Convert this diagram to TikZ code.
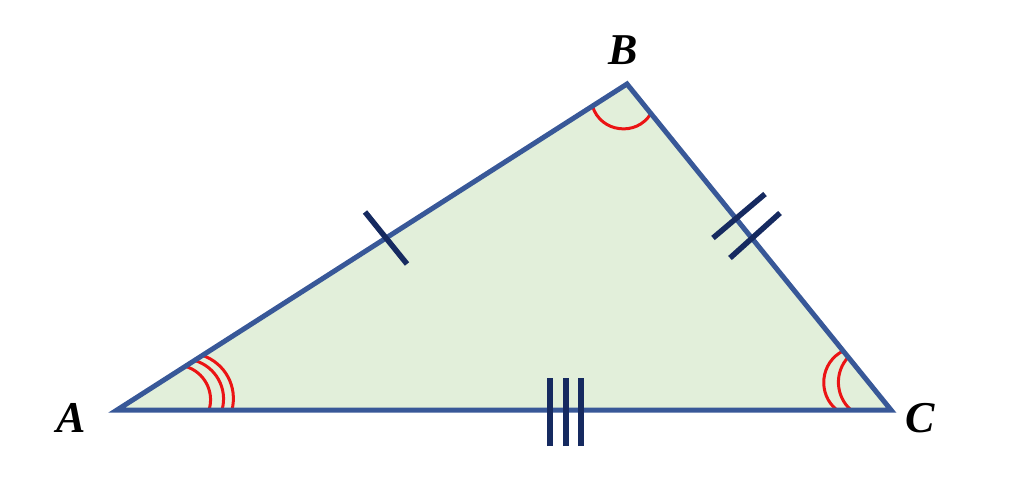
\documentclass[tikz,border=0pt]{standalone}
\usepackage{fontspec}
\setmainfont{Liberation Serif}
\usetikzlibrary{calc}
\begin{document}
\begin{tikzpicture}[x=1pt,y=1pt,
  sides/.style={draw=sideblue,line width=5pt,line join=miter},
  tickmark/.style={draw=tickblue,line width=5.5pt},
  angarc/.style={draw=arcred,line width=3pt},
  vlabel/.style={font=\fontsize{44}{44}\selectfont\bfseries\itshape,inner sep=0pt}]
\definecolor{sideblue}{RGB}{56,88,152}
\definecolor{tickblue}{RGB}{22,42,96}
\definecolor{trifill}{RGB}{226,239,218}
\definecolor{arcred}{RGB}{235,20,20}
\useasboundingbox (0,0) rectangle (1024,498);
\coordinate (A) at (117,88);
\coordinate (B) at (627,414);
\coordinate (C) at (891,88);
% fill
\fill[trifill] (A) -- (B) -- (C) -- cycle;
% angle arcs at A
\draw[angarc] ($(A)!92pt!(C)$) to[bend right=46] ($(A)!81pt!(B)$);
\draw[angarc] ($(A)!105pt!(C)$) to[bend right=45] ($(A)!92pt!(B)$);
\draw[angarc] ($(A)!115pt!(C)$) to[bend right=42] ($(A)!101.5pt!(B)$);
% angle arc at B
\draw[angarc] ($(B)!41pt!(A)$) to[bend right=66,looseness=1.2] ($(B)!38pt!(C)$);
% angle arcs at C
\draw[angarc] ($(C)!54pt!(A)$) to[bend left=58,looseness=1.1] ($(C)!76pt!(B)$);
\draw[angarc] ($(C)!40pt!(A)$) to[bend left=46] ($(C)!68pt!(B)$);
% sides
\draw[sides] (A) -- (B) -- (C) -- cycle;
% tick marks
\coordinate (m1) at (386,260);
\draw[tickmark] ($(m1)+(-21,26)$) -- ($(m1)+(21,-26)$);
\coordinate (m2) at (739,282);
\coordinate (m3) at (755,262.5);
\draw[tickmark] ($(m2)+(-26,-22)$) -- ($(m2)+(26,22)$);
\draw[tickmark] ($(m3)+(-25,-22.5)$) -- ($(m3)+(25,22.5)$);
\coordinate (m4) at (550,86);
\coordinate (m5) at (566,86);
\coordinate (m6) at (581,86);
\draw[tickmark] ($(m4)+(0,-34)$) -- ($(m4)+(0,34)$);
\draw[tickmark] ($(m5)+(0,-34)$) -- ($(m5)+(0,34)$);
\draw[tickmark] ($(m6)+(0,-34)$) -- ($(m6)+(0,34)$);
% labels
\node[vlabel] (la) at (71,80) {A};
\node[vlabel] (lb) at (623,448) {B};
\node[vlabel] (lc) at (920,80) {C};
\end{tikzpicture}
\end{document}
